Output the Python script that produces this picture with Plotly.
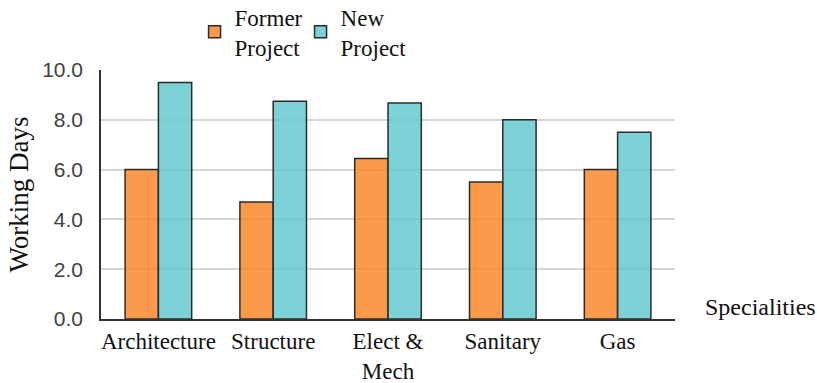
import plotly.graph_objects as go

# Working days per speciality, former vs new project
categories = ["Architecture", "Structure", "Elect &<br>Mech", "Sanitary", "Gas"]
former_project = [6.0, 4.7, 6.45, 5.5, 6.0]
new_project = [9.5, 8.75, 8.67, 8.0, 7.5]
y_ticks = [0, 2, 4, 6, 8, 10]

serif = "Liberation Serif, Times New Roman, serif"
sans = "Liberation Sans, Arial, sans-serif"

fig = go.Figure()
fig.add_trace(go.Bar(
    x=categories, y=former_project, name="Former<br>Project",
    marker=dict(color="rgba(250,136,44,0.85)", line=dict(color="#2b2b2b", width=1.5)),
))
fig.add_trace(go.Bar(
    x=categories, y=new_project, name="New<br>Project",
    marker=dict(color="rgba(101,202,207,0.85)", line=dict(color="#2b2b2b", width=1.5)),
))

fig.update_layout(
    width=817, height=383,
    margin=dict(l=101, r=142, t=70, b=64, autoexpand=False),
    paper_bgcolor="white", plot_bgcolor="white",
    barmode="group", bargap=0.42, bargroupgap=0,
    showlegend=True,
    legend=dict(
        orientation="h", x=0.163, y=1.30, xanchor="left", yanchor="top",
        font=dict(family=serif, size=23, color="#111111"),
        itemwidth=30, entrywidth=61, entrywidthmode="pixels",
        tracegroupgap=0, bgcolor="rgba(0,0,0,0)",
    ),
    xaxis=dict(
        automargin=False,
        showline=True, linecolor="#333333", linewidth=1.5,
        tickfont=dict(family=serif, size=23, color="#111111"),
        ticklabelstandoff=1, showgrid=False,
    ),
    yaxis=dict(
        automargin=False,
        range=[0, 10], tickvals=y_ticks, tickformat=".1f",
        showline=True, linecolor="#333333", linewidth=1.5,
        showgrid=True, gridcolor="#d6d6d6", gridwidth=1.5,
        tickfont=dict(family=sans, size=21, color="#404040"),
        ticklabelstandoff=12, zeroline=False,
        title=dict(text="Working Days", font=dict(family=serif, size=27, color="#111111"), standoff=6),
    ),
    annotations=[dict(
        text="Specialities", xref="paper", yref="paper", x=1.0, y=0.05,
        xanchor="left", yanchor="middle", xshift=28, showarrow=False,
        font=dict(family=serif, size=24, color="#111111"),
    )],
)

fig.write_html("out.html")
